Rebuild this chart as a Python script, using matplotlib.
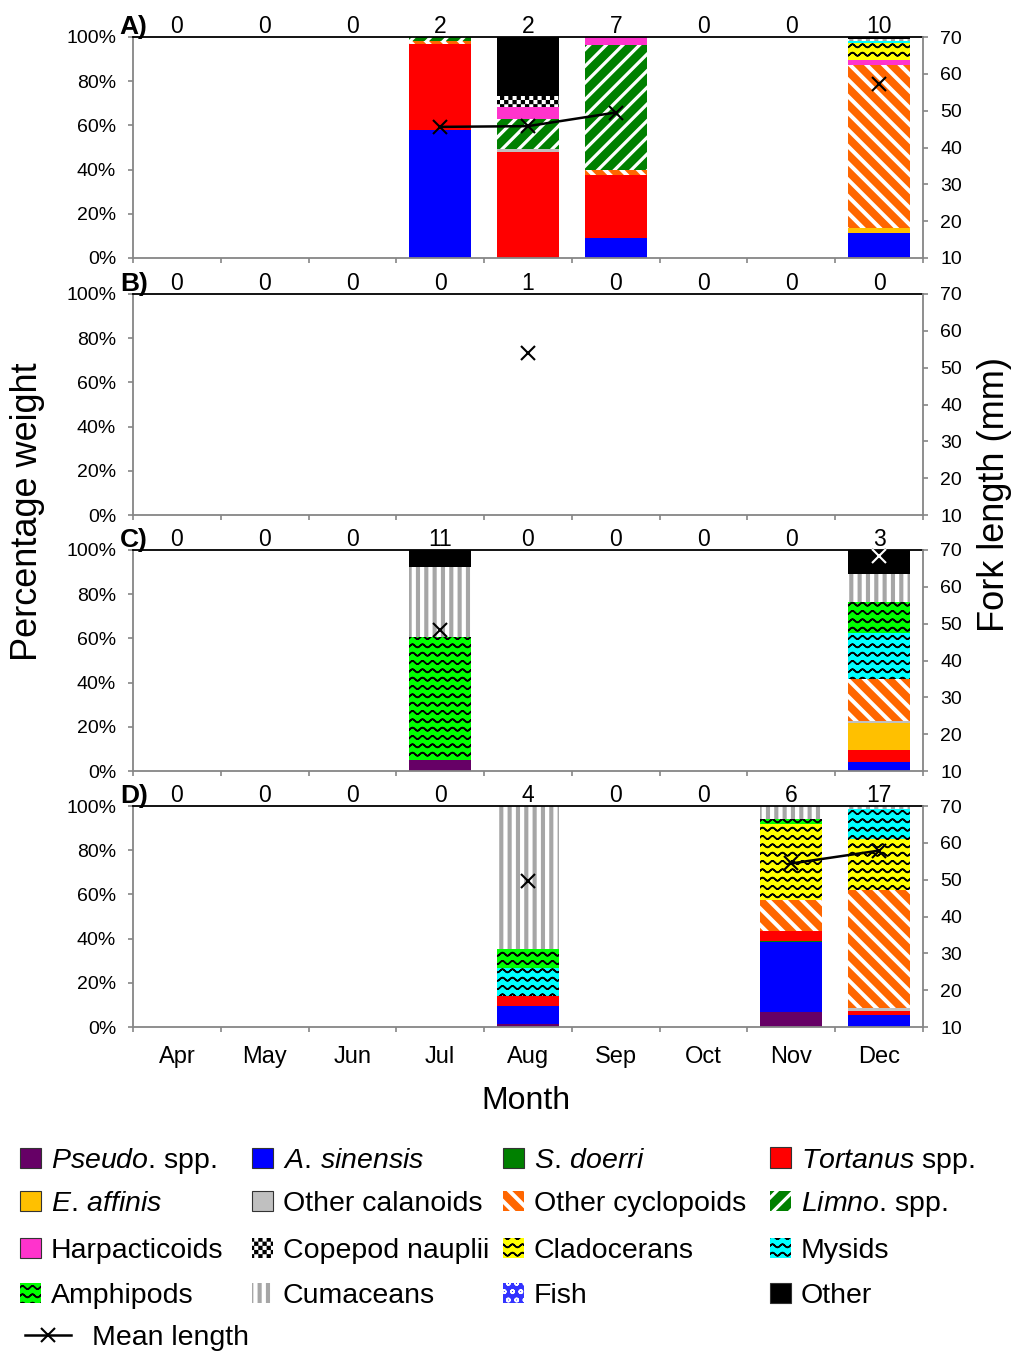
import warnings
import numpy as np
import matplotlib
matplotlib.use("Agg")
import matplotlib.pyplot as plt
from matplotlib import hatch as mhatch
from matplotlib.path import Path
from matplotlib.patches import Patch
from matplotlib.lines import Line2D
from matplotlib.legend_handler import HandlerLine2D
from matplotlib.ticker import FuncFormatter

warnings.filterwarnings("ignore", message=".*hatch must consist.*")

plt.rcParams["font.family"] = ["Liberation Sans", "DejaVu Sans"]
plt.rcParams["mathtext.fontset"] = "custom"
plt.rcParams["mathtext.rm"] = "Liberation Sans"
plt.rcParams["mathtext.it"] = "Liberation Sans:italic"
plt.rcParams["hatch.linewidth"] = 1.1

# === DATA ===
nan = np.nan
months = ["Apr", "May", "Jun", "Jul", "Aug", "Sep", "Oct", "Nov", "Dec"]
prey = [r"$\it{Pseudo}$. spp.", r"$\it{A.\,sinensis}$", r"$\it{S.\,doerri}$", r"$\it{Tortanus}$ spp.",
        r"$\it{E.\,affinis}$", "Other calanoids", "Other cyclopoids", r"$\it{Limno}$. spp.",
        "Harpacticoids", "Copepod nauplii", "Cladocerans", "Mysids",
        "Amphipods", "Cumaceans", "Fish", "Other"]

# percentage weight, one value per prey group (same order as `prey`)
a_jul = [0, 58, 0, 39, 0, 0, 1, 2, 0, 0, 0, 0, 0, 0, 0, 0]
a_aug = [0, 0, 0, 47.8, 0, 1.4, 0, 13.7, 5.3, 5.1, 0, 0, 0, 0, 0, 26.7]
a_sep = [0, 9.2, 0, 28.2, 0, 0, 2.4, 56.6, 3.6, 0, 0, 0, 0, 0, 0, 0]
a_dec = [0.5, 11, 0, 0, 2, 0, 73.8, 0, 2.3, 0, 7.5, 0.9, 0, 1.0, 0, 1.0]
c_jul = [5, 0, 0, 0, 0, 0, 0, 0, 0, 0, 0, 0, 55.5, 31.9, 0, 7.6]
c_dec = [0, 4.2, 0, 5.3, 12.1, 1.0, 19, 0, 0, 0, 0, 20.7, 14.3, 12.5, 0, 10.9]
d_aug = [1.4, 8, 0, 4.8, 0, 0, 0, 0, 0, 0, 0, 12.4, 8.7, 64.7, 0, 0]
d_nov = [6.9, 31.4, 0.5, 4.8, 0, 0, 14, 0, 0, 0, 34.1, 0, 2.4, 5.9, 0, 0]
d_dec = [0, 5.6, 0, 1.8, 0, 1.2, 53.4, 0, 0, 0, 23, 13.5, 0, 1.5, 0, 0]

# fish counts per month
n_a = [0, 0, 0, 2, 2, 7, 0, 0, 10]
n_b = [0, 0, 0, 0, 1, 0, 0, 0, 0]
n_c = [0, 0, 0, 11, 0, 0, 0, 0, 3]
n_d = [0, 0, 0, 0, 4, 0, 0, 6, 17]

# mean fork length (mm)
len_a = [nan, nan, nan, 45.6, 45.8, 49.5, nan, nan, 57.2]
len_b = [nan, nan, nan, nan, 54.0, nan, nan, nan, nan]
len_c = [nan, nan, nan, 48.3, nan, nan, nan, nan, 68.4]
len_d = [nan, nan, nan, nan, 49.6, nan, nan, 54.4, 57.9]

# === STYLES ===
prey_colors = ["#660066", "#0000FF", "#008000", "#FF0000", "#FFC000", "#C0C0C0", "#FF6600", "#008000",
               "#FF33CC", "#FFFFFF", "#FFFF00", "#00FFFF", "#00FF00", "#FFFFFF", "#3333FF", "#000000"]
prey_hatch = [None, None, None, None, None, None, "S", "N",
              None, "##", "~~", "~~", "~~", "V", "oo", None]
hatch_color = ["none"] * 6 + ["white", "white", "none", "black", "black", "black", "black",
                              "#A6A6A6", "white", "none"]
GRAY = "#868686"


# Excel-like pattern fills: wavy lines, checkerboard, thick stripes
class WaveHatch(mhatch.HatchPatternBase):
    npts = 101

    def __init__(self, hatch, density):
        self.num_lines = int(hatch.count("~") * density)
        self.num_vertices = self.num_lines * self.npts * 2

    def set_vertices_and_codes(self, vertices, codes):
        t = np.linspace(0, 1, self.npts)
        w = 0.016 * np.sin(2 * np.pi * 10 * t)
        n2 = 2 * self.npts
        for i in range(self.num_lines):
            y0 = (i + 0.5) / self.num_lines
            vertices[i * n2:(i + 1) * n2, 0] = np.concatenate([t, t[::-1]])
            vertices[i * n2:(i + 1) * n2, 1] = np.concatenate([w, w[::-1]]) + y0
            codes[i * n2:(i + 1) * n2] = Path.LINETO
            codes[i * n2] = Path.MOVETO


class CheckerHatch(mhatch.HatchPatternBase):
    def __init__(self, hatch, density):
        self.n = int(hatch.count("#") * density * 2)
        self.num_vertices = (self.n * self.n // 2) * 5

    def set_vertices_and_codes(self, vertices, codes):
        s = 1.0 / self.n
        d = 0.014
        k = 0
        for r in range(self.n):
            for c in range(self.n):
                if (r + c) % 2:
                    continue
                x, y = c * s + d / 2, r * s + d / 2
                e = s - d
                vertices[k:k + 5] = [(x, y), (x + e, y), (x + e, y + e), (x, y + e), (x, y)]
                codes[k:k + 5] = [Path.MOVETO, Path.LINETO, Path.LINETO, Path.LINETO, Path.CLOSEPOLY]
                k += 5


class BandHatch(mhatch.HatchPatternBase):
    # char: (slope, bands per cell, band width)
    specs = {"S": (-1, 6, 0.035), "N": (1, 6, 0.024), "V": (0, 12, 0.026)}

    def __init__(self, hatch, density):
        self.polys = []
        for ch, (sl, n, w) in self.specs.items():
            if ch not in hatch:
                continue
            for k in range(-n, 2 * n + 1):
                c = k / n
                if sl == 0:
                    p = [(c, -0.1), (c + w, -0.1), (c + w, 1.1), (c, 1.1)]
                else:
                    p = [(-0.5, sl * (-0.5 - c)), (1.5, sl * (1.5 - c)),
                         (1.5 + w, sl * (1.5 - c)), (-0.5 + w, sl * (-0.5 - c))]
                self.polys.append(p + [p[0]])
        self.num_vertices = 5 * len(self.polys)

    def set_vertices_and_codes(self, vertices, codes):
        for i, p in enumerate(self.polys):
            vertices[i * 5:i * 5 + 5] = p
            codes[i * 5:i * 5 + 5] = [Path.MOVETO, Path.LINETO, Path.LINETO, Path.LINETO, Path.CLOSEPOLY]


mhatch._hatch_types.extend([WaveHatch, CheckerHatch, BandHatch])


class LeftMarker(HandlerLine2D):
    def get_xdata(self, legend, xdescent, ydescent, width, height, fontsize):
        return [-xdescent, -xdescent + width], [-xdescent + 0.18 * width]


panels = [("A)", {"Jul": a_jul, "Aug": a_aug, "Sep": a_sep, "Dec": a_dec}, n_a, len_a),
          ("B)", {}, n_b, len_b),
          ("C)", {"Jul": c_jul, "Dec": c_dec}, n_c, len_c),
          ("D)", {"Aug": d_aug, "Nov": d_nov, "Dec": d_dec}, n_d, len_d)]
white_marks = {"C)": ["Dec"]}

W, H = 1016, 1356
fig = plt.figure(figsize=(W / 100, H / 100), dpi=100)
tops = [37, 294, 550, 806]
x = np.arange(len(months))

for k, (tag, bars, counts, lengths) in enumerate(panels):
    ax = fig.add_axes([133 / W, 1 - (tops[k] + 221) / H, 790 / W, 221 / H])

    for m, vals in bars.items():
        xi = months.index(m)
        bottom = 0
        for j, v in enumerate(vals):
            if v <= 0:
                continue
            ax.bar(xi, v, bottom=bottom, width=0.71, color=prey_colors[j],
                   hatch=prey_hatch[j], edgecolor=hatch_color[j], linewidth=0)
            bottom += v

    ax.set_xlim(-0.5, 8.5)
    ax.set_ylim(0, 100)
    ax.set_xticks(np.arange(-0.5, 9, 1))
    ax.set_xticklabels([])
    ax.set_xticks(x, minor=True)
    if k == 3:
        ax.set_xticklabels(months, minor=True, fontsize=17)
    ax.tick_params(axis="x", which="minor", length=0, pad=14)
    ax.tick_params(axis="x", which="major", direction="out", length=3.6, color=GRAY, width=1.2)
    ax.set_yticks(range(0, 101, 20))
    ax.yaxis.set_major_formatter(FuncFormatter(lambda v, p: f"{v:.0f}%"))
    ax.tick_params(axis="y", direction="out", length=3.6, color=GRAY, width=1.2, labelsize=14, pad=8.5)
    ax.spines["top"].set_color("black")
    ax.spines["top"].set_linewidth(1.3)
    for s in ["left", "bottom"]:
        ax.spines[s].set_color(GRAY)
        ax.spines[s].set_linewidth(1.3)
    ax.spines["right"].set_visible(False)

    for i, n in enumerate(counts):
        ax.annotate(str(n), xy=(i, 1), xycoords=("data", "axes fraction"), xytext=(0, 3),
                    textcoords="offset points", ha="center", va="baseline", fontsize=16.5)
    ax.annotate(tag, xy=(0, 1), xycoords="axes fraction", xytext=(-9.5, 2.5),
                textcoords="offset points", ha="left", va="baseline", fontsize=19, fontweight="bold")

    ax2 = ax.twinx()
    ax2.set_ylim(10, 70)
    ax2.set_yticks(range(10, 71, 10))
    ax2.tick_params(axis="y", direction="out", length=3.6, color=GRAY, width=1.2, labelsize=14, pad=9)
    for s in ["left", "top", "bottom"]:
        ax2.spines[s].set_visible(False)
    ax2.spines["right"].set_color(GRAY)
    ax2.spines["right"].set_linewidth(1.3)
    ax2.plot(x, lengths, color="black", marker="x", ms=10, mew=1.5, lw=1.8, clip_on=False)
    for m in white_marks.get(tag, []):
        i = months.index(m)
        ax2.plot(x[i], lengths[i], "x", color="white", ms=10, mew=1.5, clip_on=False)

fig.text(28 / W, 1 - 512 / H, "Percentage weight", rotation=90, ha="center", va="center", fontsize=26)
fig.text(995 / W, 1 - 495 / H, "Fork length (mm)", rotation=90, ha="center", va="center", fontsize=26)
fig.text(526 / W, 1 - 1101 / H, "Month", ha="center", va="center", fontsize=23)

# === LEGEND: 4 x 4 grid of prey groups + mean length row ===
col_x = [20, 252, 503, 770]
row_y = [1161, 1204, 1251, 1296]
for j in range(len(prey)):
    r, c = divmod(j, 4)
    if prey_hatch[j] is None:
        h = Patch(facecolor=prey_colors[j], edgecolor="#333333", linewidth=0.8)
    else:
        h = Patch(facecolor=prey_colors[j], hatch=prey_hatch[j], edgecolor=hatch_color[j], linewidth=0)
    fig.legend([h], [prey[j]], loc="center left", bbox_to_anchor=(col_x[c] / W, 1 - row_y[r] / H),
               frameon=False, fontsize=20.5, handlelength=0.72, handleheight=0.72, handletextpad=0.36,
               borderpad=0, borderaxespad=0)

ml = Line2D([], [], color="black", marker="x", ms=10, mew=1.5, lw=1.8)
fig.legend([ml], ["Mean length"], loc="center left", bbox_to_anchor=(25 / W, 1 - 1338 / H),
           frameon=False, fontsize=20.5, handlelength=1.62, handletextpad=0.72,
           borderpad=0, borderaxespad=0, handler_map={Line2D: LeftMarker()})

fig.savefig("out.png", dpi=100)
